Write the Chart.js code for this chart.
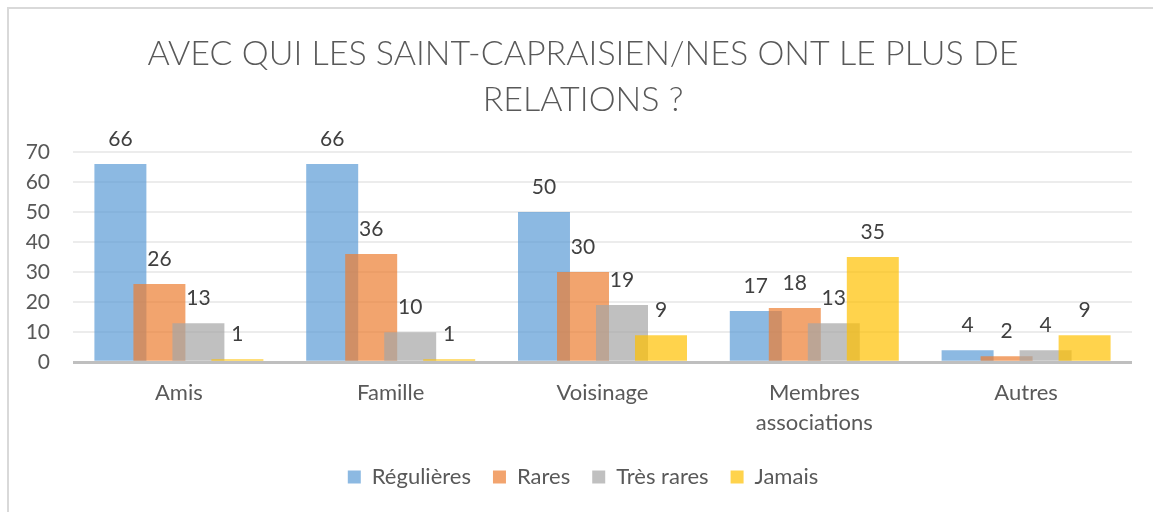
<!DOCTYPE html>
<html lang="fr">
<head>
<meta charset="utf-8">
<title>Relations des Saint-Capraisien/nes</title>
<script src="https://cdn.jsdelivr.net/npm/chart.js@4.4.1/dist/chart.umd.min.js"></script>
<style>
  html, body { margin: 0; padding: 0; background: #ffffff; overflow: hidden; }
  #wrap { position: relative; width: 1153px; height: 512px; }
  #frame {
    position: absolute; left: 7px; top: 7px; width: 1300px; height: 700px;
    border-left: 2px solid #d9d9d9; border-top: 2px solid #d9d9d9;
  }
  #chart { position: absolute; left: 0; top: 0; }
</style>
</head>
<body>
<div id="wrap">
  <div id="frame"></div>
  <canvas id="chart" width="1153" height="512"></canvas>
</div>
<script>
// catégories et séries
const categories = ['Amis', 'Famille', 'Voisinage', ['Membres', 'associations'], 'Autres'];
const seriesNames = ['Régulières', 'Rares', 'Très rares', 'Jamais'];
const regulieres = [66, 66, 50, 17, 4];
const rares = [26, 36, 30, 18, 2];
const tresRares = [13, 10, 19, 13, 4];
const jamais = [1, 1, 9, 35, 9];
const yTicks = [0, 10, 20, 30, 40, 50, 60, 70];

const seriesValues = [regulieres, rares, tresRares, jamais];
const seriesColors = [
    'rgba(91, 155, 213, 0.7)',
    'rgba(237, 125, 49, 0.7)',
    'rgba(165, 165, 165, 0.7)',
    'rgba(255, 192, 0, 0.7)'
];

const FONT = 'Lato, "Open Sans", "Liberation Sans", sans-serif';

// Titre et légende centrés un peu à droite du milieu du canevas
const centerBlocks = {
    id: 'centerBlocks',
    afterLayout(chart) {
        if (chart.titleBlock) chart.titleBlock.left = 34;
        if (chart.legend) chart.legend.left = 34;
    }
};

// Dessine les barres dans l'ordre des séries (la suivante recouvre la précédente)
// puis les étiquettes de valeur au-dessus de chaque barre.
const orderedBars = {
    id: 'orderedBars',
    beforeDatasetsDraw(chart) {
        const ctx = chart.ctx;
        const n = chart.data.datasets.length;
        for (let i = 0; i < n; i++) {
            if (chart.isDatasetVisible(i)) chart.getDatasetMeta(i).controller.draw();
        }
        ctx.save();
        ctx.font = '21px ' + FONT;
        ctx.fillStyle = '#404040';
        ctx.textAlign = 'center';
        ctx.textBaseline = 'middle';
        for (let i = 0; i < n; i++) {
            if (!chart.isDatasetVisible(i)) continue;
            const meta = chart.getDatasetMeta(i);
            const data = chart.data.datasets[i].data;
            meta.data.forEach((bar, j) => {
                ctx.fillText(String(data[j]), bar.x, bar.y - 25);
            });
        }
        ctx.restore();
        return false;
    }
};

const chart = new Chart(document.getElementById('chart'), {
    type: 'bar',
    data: {
        labels: categories,
        datasets: seriesValues.map((values, i) => ({
            label: seriesNames[i],
            data: values,
            backgroundColor: seriesColors[i],
            borderWidth: 0,
            categoryPercentage: 0.7366,
            barPercentage: 1.333
        }))
    },
    options: {
        responsive: false,
        animation: false,
        layout: { padding: { top: 0, left: 0, right: 21, bottom: 14 } },
        plugins: {
            title: {
                display: true,
                text: ['AVEC QUI LES SAINT-CAPRAISIEN/NES ONT LE PLUS DE', 'RELATIONS ?'],
                color: '#595959',
                font: { family: FONT, size: 34, weight: '300', lineHeight: 1.353 },
                padding: { top: 31, bottom: 29 }
            },
            legend: {
                position: 'bottom',
                labels: {
                    color: '#595959',
                    font: { family: FONT, size: 22 },
                    boxWidth: 13,
                    boxHeight: 13,
                    padding: 22
                }
            },
            tooltip: { enabled: false }
        },
        scales: {
            x: {
                grid: { display: false },
                border: { display: false },
                afterFit: (axis) => { axis.height -= 2; },
                ticks: {
                    color: '#595959',
                    font: { family: FONT, size: 22, lineHeight: 1.36 },
                    padding: 8,
                    maxRotation: 0
                }
            },
            y: {
                min: 0,
                max: 70,
                afterBuildTicks: (axis) => { axis.ticks = yTicks.map(v => ({ value: v })); },
                afterFit: (axis) => { axis.width = 73; },
                grid: {
                    drawTicks: false,
                    color: (c) => c.tick && c.tick.value === 0 ? '#bfbfbf' : '#ececec',
                    lineWidth: (c) => c.tick && c.tick.value === 0 ? 3 : 2
                },
                border: { display: false },
                ticks: {
                    color: '#595959',
                    font: { family: FONT, size: 21 },
                    padding: 23
                }
            }
        }
    },
    plugins: [centerBlocks, orderedBars]
});
</script>
</body>
</html>
